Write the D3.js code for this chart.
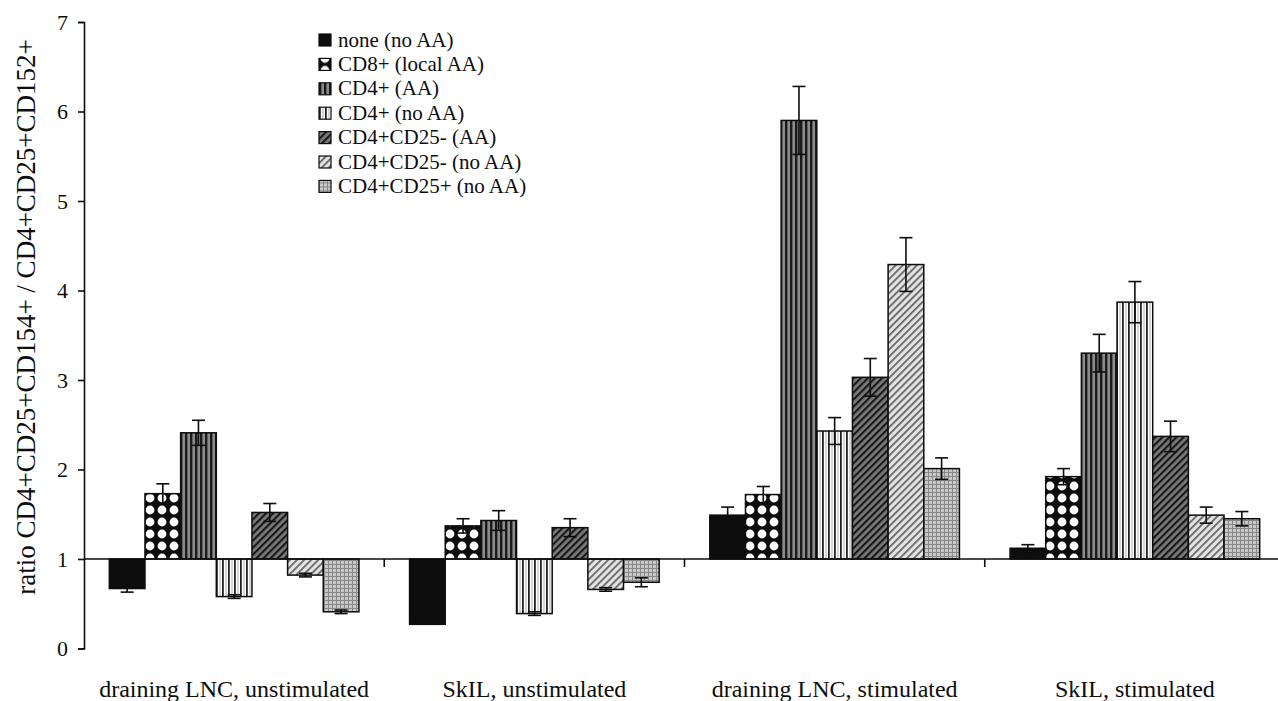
<!DOCTYPE html>
<html>
<head>
<meta charset="utf-8">
<script src="https://cdn.jsdelivr.net/npm/d3@7"></script>
<style>
  body { margin: 0; background: #fff; }
  svg { display: block; }
</style>
</head>
<body>
<svg id="chart" width="1278" height="701" font-family="Liberation Serif"></svg>
<script>
const groups = ["draining LNC, unstimulated", "SkIL, unstimulated", "draining LNC, stimulated", "SkIL, stimulated"];
const series = ["none (no AA)", "CD8+ (local AA)", "CD4+ (AA)", "CD4+ (no AA)", "CD4+CD25- (AA)", "CD4+CD25- (no AA)", "CD4+CD25+ (no AA)"];

// ratio values, one array per series (order = groups)
const noneNoAA     = [0.67, 0.27, 1.49, 1.12];
const cd8LocalAA   = [1.73, 1.37, 1.72, 1.92];
const cd4AA        = [2.41, 1.43, 5.90, 3.30];
const cd4NoAA      = [0.58, 0.39, 2.43, 3.87];
const cd25negAA    = [1.52, 1.35, 3.03, 2.37];
const cd25negNoAA  = [0.82, 0.66, 4.29, 1.49];
const cd25posNoAA  = [0.41, 0.74, 2.01, 1.45];

// error bar half-lengths
const errNone      = [0.04, 0.00, 0.09, 0.04];
const errCd8       = [0.11, 0.08, 0.09, 0.09];
const errCd4AA     = [0.14, 0.11, 0.38, 0.21];
const errCd4NoAA   = [0.02, 0.02, 0.15, 0.23];
const errNegAA     = [0.10, 0.10, 0.21, 0.17];
const errNegNoAA   = [0.02, 0.02, 0.30, 0.09];
const errPosNoAA   = [0.02, 0.05, 0.12, 0.08];

const yTicks = [0, 1, 2, 3, 4, 5, 6, 7];
const yTitle = "ratio CD4+CD25+CD154+ / CD4+CD25+CD152+";

const values = [noneNoAA, cd8LocalAA, cd4AA, cd4NoAA, cd25negAA, cd25negNoAA, cd25posNoAA];
const errors = [errNone, errCd8, errCd4AA, errCd4NoAA, errNegAA, errNegNoAA, errPosNoAA];

const data = [];
series.forEach((s, si) => groups.forEach((g, gi) => {
  data.push({ series: s, si, group: g, value: values[si][gi], err: errors[si][gi] });
}));

const svg = d3.select("#chart");
const ink = "#0d0d0d";
const serif = "Liberation Serif";

// ---- patterns
const defs = svg.append("defs");
function pat(id, w, h, draw, transform) {
  const p = defs.append("pattern").attr("id", id)
    .attr("patternUnits", "userSpaceOnUse").attr("width", w).attr("height", h);
  if (transform) p.attr("patternTransform", transform);
  draw(p);
}
pat("p0", 4, 4, p => p.append("rect").attr("width", 4).attr("height", 4).attr("fill", ink));
pat("p1", 12, 12, p => {
  p.append("rect").attr("width", 12).attr("height", 12).attr("fill", ink);
  p.append("circle").attr("cx", 6).attr("cy", 6).attr("r", 4.4).attr("fill", "#fff");
});
pat("p2", 5, 5, p => {
  p.append("rect").attr("width", 5).attr("height", 5).attr("fill", "#8c8c8c");
  p.append("rect").attr("width", 2.4).attr("height", 5).attr("fill", "#1a1a1a");
});
pat("p3", 6, 6, p => {
  p.append("rect").attr("width", 6).attr("height", 6).attr("fill", "#fff");
  p.append("rect").attr("width", 1.8).attr("height", 6).attr("fill", "#222");
  p.append("rect").attr("x", 3.6).attr("width", 0.8).attr("height", 6).attr("fill", "#999");
});
pat("p4", 5, 5, p => {
  p.append("rect").attr("width", 5).attr("height", 5).attr("fill", "#7a7a7a");
  p.append("rect").attr("width", 2.2).attr("height", 5).attr("fill", "#1a1a1a");
}, "rotate(45)");
pat("p5", 5, 5, p => {
  p.append("rect").attr("width", 5).attr("height", 5).attr("fill", "#e4e4e4");
  p.append("rect").attr("width", 1.8).attr("height", 5).attr("fill", "#666");
}, "rotate(45)");
pat("p6", 4, 4, p => {
  p.append("rect").attr("width", 4).attr("height", 4).attr("fill", "#c8c8c8");
  p.append("rect").attr("width", 4).attr("height", 1).attr("fill", "#888");
  p.append("rect").attr("width", 1).attr("height", 4).attr("fill", "#888");
});
const fillOf = si => `url(#p${si})`;

// ---- scales
const x0 = d3.scaleBand().domain(groups).range([84, 1285]).padding(0);
const x1 = d3.scaleBand().domain(series).range([0, x0.bandwidth()])
  .paddingInner(0).paddingOuter(0.71);
const y = d3.scaleLinear().domain([0, 7]).range([648.5, 22]);
const base = y(1);

// ---- y axis
const yAxis = svg.append("g")
  .attr("transform", `translate(${x0.range()[0]},0)`)
  .call(d3.axisLeft(y).tickValues(yTicks).tickFormat(d3.format("d"))
    .tickSize(6).tickSizeOuter(6).tickPadding(10));
yAxis.attr("font-family", serif);
yAxis.selectAll("path, line").attr("stroke", ink).attr("stroke-width", 1.6);
yAxis.selectAll("text").attr("font-size", 22).attr("fill", ink);

svg.append("text")
  .attr("transform", `translate(35,${317}) rotate(-90)`)
  .attr("text-anchor", "middle")
  .attr("font-family", serif)
  .attr("font-size", 27)
  .attr("fill", ink)
  .text(yTitle);

// ---- bars
svg.append("g").selectAll("rect")
  .data(data)
  .join("rect")
    .attr("x", d => x0(d.group) + x1(d.series))
    .attr("width", x1.bandwidth())
    .attr("y", d => Math.min(y(d.value), base))
    .attr("height", d => Math.abs(y(d.value) - base))
    .attr("fill", d => fillOf(d.si))
    .attr("stroke", ink)
    .attr("stroke-width", 1.5);

// ---- error bars
const eb = svg.append("g").attr("stroke", ink).attr("stroke-width", 1.6)
  .selectAll("g").data(data.filter(d => d.err > 0)).join("g")
    .attr("transform", d => `translate(${x0(d.group) + x1(d.series) + x1.bandwidth() / 2},0)`);
eb.append("line").attr("y1", d => y(d.value - d.err)).attr("y2", d => y(d.value + d.err));
eb.append("line").attr("x1", -6.5).attr("x2", 6.5)
  .attr("y1", d => y(d.value + d.err)).attr("y2", d => y(d.value + d.err));
eb.append("line").attr("x1", -6.5).attr("x2", 6.5)
  .attr("y1", d => y(d.value - d.err)).attr("y2", d => y(d.value - d.err));

// ---- baseline at ratio 1 with group separators
svg.append("line")
  .attr("x1", x0.range()[0]).attr("x2", 1278)
  .attr("y1", base).attr("y2", base)
  .attr("stroke", ink).attr("stroke-width", 1.6);
svg.append("g").selectAll("line")
  .data(groups.slice(1))
  .join("line")
    .attr("x1", d => x0(d)).attr("x2", d => x0(d))
    .attr("y1", base).attr("y2", base + 8)
    .attr("stroke", ink).attr("stroke-width", 1.6);

svg.append("g").attr("font-family", serif).selectAll("text")
  .data(groups)
  .join("text")
    .attr("x", d => x0(d) + x0.bandwidth() / 2)
    .attr("y", 697)
    .attr("text-anchor", "middle")
    .attr("font-size", 24)
    .attr("fill", ink)
    .text(d => d);

// ---- legend
const leg = svg.append("g").attr("transform", "translate(319,40)")
  .attr("font-family", serif)
  .selectAll("g").data(series).join("g")
    .attr("transform", (d, i) => `translate(0,${i * 24.4})`);
leg.append("rect")
  .attr("y", -6).attr("width", 12).attr("height", 12)
  .attr("fill", (d, i) => fillOf(i))
  .attr("stroke", ink).attr("stroke-width", 1.2);
leg.append("text")
  .attr("x", 19).attr("y", 6.5)
  .attr("font-size", 21)
  .attr("fill", ink)
  .text(d => d);
</script>
</body>
</html>
